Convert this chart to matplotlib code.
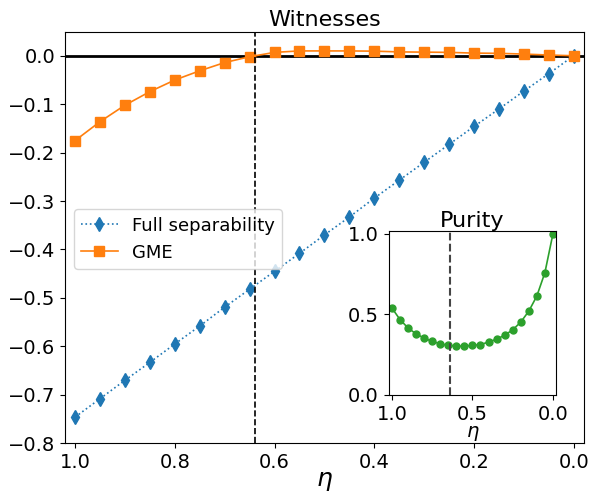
import numpy as np
import matplotlib
matplotlib.use("Agg")
import matplotlib.pyplot as plt

eta = [1.0, 0.95, 0.9, 0.85, 0.8, 0.75, 0.7, 0.65, 0.6, 0.55, 0.5,
       0.45, 0.4, 0.35, 0.3, 0.25, 0.2, 0.15, 0.1, 0.05, 0.0]
full_sep = [-0.746, -0.708, -0.670, -0.633, -0.595, -0.558, -0.519, -0.482,
            -0.445, -0.408, -0.370, -0.333, -0.294, -0.257, -0.220, -0.183,
            -0.146, -0.110, -0.073, -0.037, 0.0]
gme = [-0.175, -0.136, -0.102, -0.074, -0.050, -0.031, -0.014, -0.002,
       0.007, 0.010, 0.010, 0.010, 0.0095, 0.008, 0.0075, 0.007, 0.0055,
       0.005, 0.0035, 0.0015, 0.0]
purity = [0.540, 0.468, 0.416, 0.379, 0.353, 0.332, 0.318, 0.307, 0.303,
          0.303, 0.307, 0.313, 0.328, 0.346, 0.371, 0.404, 0.452, 0.520,
          0.614, 0.759, 1.0]
eta_crit = 0.64

plt.rcParams['font.size'] = 14

fig = plt.figure(figsize=(5.98, 4.93), dpi=100)
ax = fig.add_axes([0.109, 0.101, 0.867, 0.835])
ax.axhline(0, color='black', lw=2)
ax.plot(eta, full_sep, ':', marker='d', color='tab:blue', lw=1.2, ms=7,
        label='Full separability')
ax.plot(eta, gme, '-', marker='s', color='tab:orange', lw=1.2, ms=6.5,
        label='GME')
ax.axvline(eta_crit, color='black', ls='--', lw=1.2)
ax.set_xlim(1.02, -0.02)
ax.set_ylim(-0.8, 0.05)
ax.set_xticks([1.0, 0.8, 0.6, 0.4, 0.2, 0.0])
ax.set_xlabel(r'$\eta$', fontsize=18, labelpad=-2)
ax.set_title('Witnesses', fontsize=16, pad=4)
ax.legend(loc='upper left', bbox_to_anchor=(0.0, 0.59), fontsize=13)

ins = fig.add_axes([0.650, 0.199, 0.280, 0.333])
ins.plot(eta, purity, '-', marker='o', color='tab:green', ms=5, lw=1.2)
ins.axvline(eta_crit, color='#444444', ls='--', lw=1.5)
ins.set_xlim(1.02, -0.02)
ins.set_ylim(0, 1.02)
ins.set_xticks([1.0, 0.5, 0.0])
ins.set_yticks([0.0, 0.5, 1.0])
ins.set_xlabel(r'$\eta$', fontsize=14, labelpad=0)
ins.set_title('Purity', fontsize=16, pad=3)

fig.savefig('out.png', dpi=100)
